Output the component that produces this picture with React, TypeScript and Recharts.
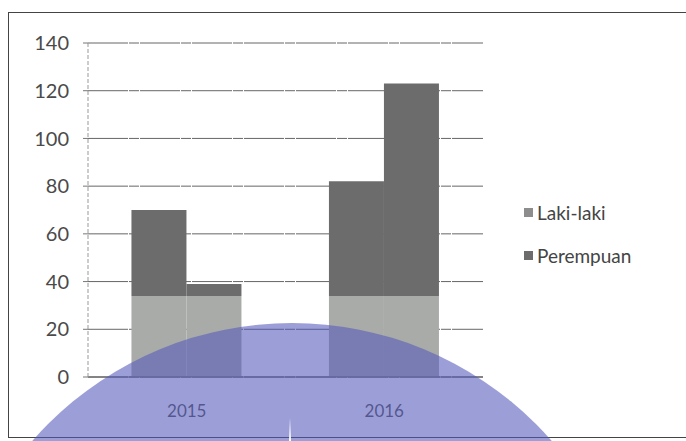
import { BarChart, Bar, XAxis, YAxis, CartesianGrid } from "recharts";

const years = ["2015", "2016"];
const lakiFirst = [34, 34];
const perempuanFirst = [36, 48];
const lakiSecond = [34, 34];
const perempuanSecond = [5, 89];
const yTicks = [0, 20, 40, 60, 80, 100, 120, 140];
const legendItems = [
  { name: "Laki-laki", color: "#8d8d8d" },
  { name: "Perempuan", color: "#6c6c6c" },
];

const data = years.map((year, i) => ({
  year,
  lakiFirst: lakiFirst[i],
  perempuanFirst: perempuanFirst[i],
  lakiSecond: lakiSecond[i],
  perempuanSecond: perempuanSecond[i],
}));

const font = "Lato, 'Open Sans', sans-serif";

function LegendBox() {
  return (
    <div
      style={{
        position: "absolute",
        left: 524,
        top: 201,
        fontFamily: font,
        fontSize: 19,
        color: "#444",
      }}
    >
      {legendItems.map((item) => (
        <div key={item.name} style={{ display: "flex", alignItems: "center", height: 22, marginBottom: 21 }}>
          <span style={{ width: 9, height: 9, background: item.color, marginRight: 4, display: "inline-block" }} />
          {item.name}
        </div>
      ))}
    </div>
  );
}

export default function App() {
  return (
    <div
      style={{
        position: "absolute",
        left: 0,
        top: 0,
        width: 686,
        height: 441,
        overflow: "hidden",
        background: "#fff",
      }}
    >
      <div
        style={{
          position: "absolute",
          left: 8,
          top: 12,
          width: 720,
          height: 424,
          border: "1.5px solid #444",
        }}
      />
      <div style={{ position: "absolute", left: 0, top: 0 }}>
        <BarChart
          width={686}
          height={441}
          data={data}
          margin={{ top: 43, right: 203, bottom: 24, left: 0 }}
          barCategoryGap="22%"
          barGap={0}
        >
          <CartesianGrid vertical={false} stroke="#666" strokeDasharray="40 1 10 1" />
          <XAxis
            dataKey="year"
            axisLine={{ stroke: "#555" }}
            tickLine={false}
            tickMargin={22}
            height={40}
            tick={{ fill: "#555", fontSize: 17, fontFamily: font }}
          />
          <YAxis
            domain={[0, 140]}
            ticks={yTicks}
            width={88}
            axisLine={{ stroke: "#999", strokeDasharray: "4 2" }}
            tickLine={{ stroke: "#777" }}
            tickSize={5}
            tickMargin={14}
            tick={{ fill: "#4a4a4a", fontSize: 20, fontFamily: font }}
          />
          <Bar dataKey="lakiFirst" stackId="a" fill="#a9aba9" isAnimationActive={false} />
          <Bar dataKey="perempuanFirst" stackId="a" fill="#6c6c6c" isAnimationActive={false} />
          <Bar dataKey="lakiSecond" stackId="b" fill="#a9aba9" isAnimationActive={false} />
          <Bar dataKey="perempuanSecond" stackId="b" fill="#6c6c6c" isAnimationActive={false} />
        </BarChart>
      </div>
      <LegendBox />
      <div
        style={{
          position: "absolute",
          left: 292 - 345,
          top: 323,
          width: 690,
          height: 690,
          borderRadius: "50%",
          background: "rgba(84, 90, 186, 0.58)",
          pointerEvents: "none",
        }}
      />
      <div
        style={{
          position: "absolute",
          left: 289,
          top: 418,
          width: 2,
          height: 23,
          background: "linear-gradient(rgba(255,255,255,0), #fff)",
        }}
      />
    </div>
  );
}
